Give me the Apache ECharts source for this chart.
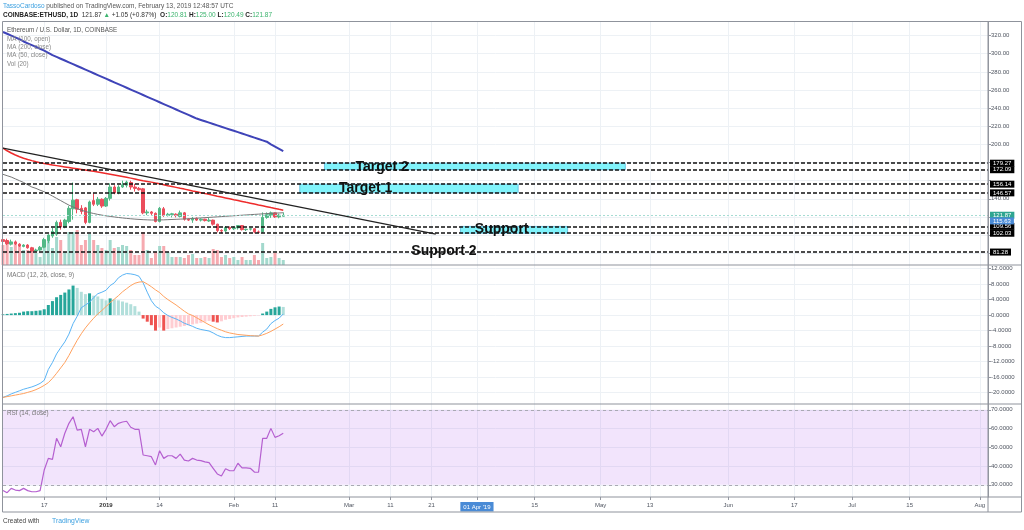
<!DOCTYPE html>
<html><head><meta charset="utf-8">
<script src="https://cdn.jsdelivr.net/npm/echarts@6/dist/echarts.min.js"></script>
<style>html,body{margin:0;padding:0;background:#fff}#c{width:1024px;height:530px}</style>
</head><body><div id="c"></div>
<script>
// ---------- DATA ----------
const firstDay = '2018-12-07';
const lastDay = '2019-08-03';
// daily candles Dec 7 2018 .. Feb 13 2019 : [open, high, low, close]
const candles = [
[95,97,91,93],[94,96,89,90.5],[90,95,88.5,92.5],[92.5,94,89,90.5],[90,91,87,88],
[87.5,90,86.5,89],[89,90,85,86],[86,87,81,82.5],[82.5,85,82,83.5],[83.5,88,82.5,86.5],
[86.5,97,85.5,95],[94,101,91,100],[99,108,97,104],[101,116,99,114],[114,117,106,109],
[109,118,107.5,116.5],[115,132,113,129.5],[129,158,117,138.5],[139,140,124,128.5],[129.5,133,123,126],
[130,131,112,114],[114,138,113,136.5],[138,146,132,134],[134,142,132,139.5],[139.5,140.5,130,132],
[132,142,131,140.5],[140.5,157,138,153],[153,155,145,146.5],[147,155,145,153],[153,160,152,155.5],
[155,160,152.5,158.5],[158,160,150,153],[153,156.5,148,151.5],[151.5,153,149,150],[151,152,123,124.5],
[124.5,128,122,125.5],[125.5,126.5,121.5,124],[124,125,114,115],[115,131,114,129.5],[129,131,120,121.5],
[121.5,124.5,120.5,123],[122.5,124.5,119.5,123.5],[123,124,119.5,121.5],[120.5,127,119.5,124.5],[124.5,125.5,116,117.5],
[117.5,118.5,115.5,116.5],[116.5,120,113.5,118.5],[118.5,119.5,115.5,116.5],[116.5,118.5,115,117.5],[117.5,118,115,116],
[115.5,119,114.5,116.5],[116.5,117,110.5,112],[112,112.5,103,105],[105,106.5,102,104.5],[104.5,110,103.5,108.5],
[108.5,109.5,105.5,107],[107,109.5,105.5,108],[108,111,106,110.5],[110.5,111,105,106],[106,107,104.5,106.5],
[106.5,108,105,107],[107,107.5,102,103.5],[103.5,105,102.5,103],[103.5,125,102.5,119.5],[119.5,125,118,122.5],
[121.5,126,119,124.5],[124.5,125,119,120],[120,123.5,118.5,122],[120.81,125.00,120.49,121.87]
];
const volumes = [500,
600,450,575,475,375,375,400,300,200,425,625,425,700,625,325,825,825,875,500,625,775,625,500,425,375,625,425,450,500,475,375,250,250,825,375,
175,325,475,475,325,200,200,200,175,250,275,175,175,200,175,400,375,200,250,175,200,125,200,125,125,250,125,550,175,200,300,175,125];
const ma200 = [324,322,320,318,316,313.5,311.5,309.5,307.5,305.5,303.5,301,298.5,296.5,294.5,292.5,290.5,288.5,286.5,284.5,
282.5,280.5,278.5,276.5,274.5,272.5,270.5,268.5,266.5,264.5,262.5,260.5,258.5,256.5,254.5,252.5,250.5,248.5,246.5,244.5,
242.5,240.5,238.5,236.5,234.5,232.5,230.5,228.5,227,225.5,224,222.5,221,219.5,218,216.5,215,213.5,212,210.5,
209,207.5,206,204.5,203,200,197.5,195,192.5];
const ma100 = [196,193,190.5,188.3,186.4,184.8,183.4,182.1,180.9,179.8,178.9,178.1,177.3,176.6,175.9,175.2,174.5,173.8,173.1,172.4,
171.7,171,170.3,169.5,168.7,167.9,167.1,166.3,165.5,164.6,163.7,162.8,161.8,160.8,159.8,159.1,
158.4,157.4,156.5,155.5,154.5,153.6,152.6,151.6,150.7,149.7,148.7,147.8,146.8,145.8,144.9,143.9,142.9,142,141,140,
139,138.1,137.1,136.1,135.2,134.2,133.2,132.3,131.3,130.3,129.4,128.4,127.5];
const ma50 = [167,165.5,164,162,160,158,155.5,153,151.5,149.5,147.8,145.5,143,140.5,138,135.5,133,131,129.2,127.5,
126,124.8,123.8,122.8,122,121.2,120.6,120,119.4,118.9,118.4,118,117.6,117.3,117,116.8,116.6,116.6,116.7,116.8,
117,117.2,117.4,117.6,117.8,118,118.3,118.6,118.9,119.2,119.5,119.8,120.1,120.4,120.7,121,121.3,121.6,121.9,122.2,
122.5,122.8,123.1,123.4,123.7,124,124.2,124.4,124.6];
const macdLine = [-21.2,-20.8,-20.3,-19.9,-19.5,-19.1,-18.8,-18.5,-18.1,-17.6,-16.8,-14,-12.2,-10,-8.4,-6.9,-4.9,-2.2,-0.3,1.9,
2.6,3.3,4.5,5.5,5.9,6.4,7.6,8.3,9.6,10.3,10.7,10.6,10.4,10,8.3,5.9,3.7,2.3,1.6,0.6,
-0.1,-0.6,-1,-1.5,-2.1,-2.5,-2.9,-3.4,-3.7,-3.9,-4.1,-4.6,-5.2,-5.6,-5.8,-5.8,-5.7,-5.6,-5.5,-5.4,
-5.4,-5.4,-5.4,-4.4,-3.6,-2.2,-1.4,-0.8,0.3];
const signalLine = [-21.2,-21,-20.8,-20.6,-20.4,-20.2,-19.9,-19.6,-19.2,-18.7,-18.1,-17.4,-16.3,-15,-13.6,-12.2,-10.4,-8.4,-6.5,-4.8,
-3.3,-2,-0.8,0.3,1.2,2.2,3.2,4.1,5,6,6.8,7.6,8.2,8.5,8.6,8,7.3,6.5,5.8,4.8,
4,3.3,2.6,1.8,1,0.3,-0.1,-0.7,-1.3,-1.9,-2.5,-3,-3.5,-3.9,-4.3,-4.6,-4.8,-5,-5.1,-5.2,
-5.3,-5.35,-5.4,-5.1,-4.7,-4.2,-3.6,-3,-2.3];
const macdHist = [0.2,0.3,0.4,0.5,0.6,0.9,1,1,1.1,1.2,1.5,2.6,3.6,4.6,5.2,5.8,6.6,7.6,7,6,
5.4,5.6,5,4.8,4.2,3.8,4.3,4,3.8,3.5,3.2,2.8,2.3,0.9,-0.9,-1.7,-2.6,-4,-3.2,-4,
-3.6,-3.4,-3.2,-3,-2.8,-2.6,-2.4,-2.2,-2,-1.7,-1.5,-1.7,-1.9,-1.6,-1.2,-1,-0.8,-0.6,-0.5,-0.4,
-0.3,-0.2,-0.1,0.4,0.9,1.6,2,2.2,2.1];
const rsi = [27,25.8,28.1,27.2,26.9,28.1,26.9,26.3,26.3,26.9,37.9,44.1,43.6,54.8,50.3,57.5,62.8,66.3,59.2,59.6,
50.3,59.6,58.3,60.1,56,59.6,64.2,61,62.8,63.5,63.9,60.7,59.6,59.6,45.9,45.5,45,40.6,48.2,44.1,
45.5,45.5,44.1,46.4,43.2,42.7,44.1,43.2,42.9,42.2,41.8,38.8,35.8,34.7,38.6,37.5,37.5,41.5,39,39,
38.8,36.8,36.7,54.8,54.8,60.1,55.3,56.2,57.5];
// drawn levels and annotations
const levelPrices = [179.27, 172.09, 156.14, 146.57, 109.56, 102.03, 81.28];
const lastPrice = 121.87;
const maTagPrice = 115.63;
const trendStart = ['2018-12-07', 196];
const trendEnd = ['2019-03-22', 101];
const zoneNames = ['Target 2', 'Target 1', 'Support'];
const zoneFrom = ['2019-02-23', '2019-02-17', '2019-03-28'];
const zoneTo = ['2019-05-07', '2019-04-11', '2019-04-23'];
const zoneHigh = [179.27, 156.14, 109.56];
const zoneLow = [172.09, 146.57, 102.03];
const noteTexts = ['Target 2', 'Target 1', 'Support', 'Support 2'];
const noteDates = ['2019-03-09', '2019-03-05', '2019-04-07', '2019-03-24'];
const notePrices = [174.5, 151.9, 106.2, 82.4];
// axis ticks
const priceGridTicks = [80,100,120,140,160,180,200,220,240,260,280,300,320];
const priceLabelTicks = [140,200,220,240,260,280,300,320];
const macdTicks = [-20,-16,-12,-8,-4,0,4,8,12];
const rsiTicks = [30,40,50,60,70];
const tickDates = ['2018-12-17','2019-01-01','2019-01-14','2019-02-01','2019-02-11','2019-03-01','2019-03-11','2019-03-21','2019-04-01','2019-04-15','2019-05-01','2019-05-13','2019-06-01','2019-06-17','2019-07-01','2019-07-15','2019-08-01'];
const tickTexts = ['17','2019','14','Feb','11','Mar','11','21',"01 Apr '19",'15','May','13','Jun','17','Jul','15','Aug'];

// ---------- BUILD ----------
const categories = [];
(function(){ let d = new Date(firstDay + 'T00:00:00Z'); const e = new Date(lastDay + 'T00:00:00Z');
  while (d <= e) { categories.push(d.toISOString().slice(0,10)); d = new Date(d.getTime() + 86400000); } })();
const tickMap = {}; tickDates.forEach((d,i)=>tickMap[d]=tickTexts[i]);
const isTick = (idx, val) => tickMap[val] !== undefined;

const UP = '#53b987', DOWN = '#eb4d5c';
const FONT = 'Liberation Sans';
const AX = '#9598a1', GRIDC = '#edf1f5', LBL = '#4f5560';

const candleData = candles.map(c => [c[0], c[3], c[2], c[1]]);
const volData = volumes.map((v,i) => ({value: v, itemStyle: {color: candles[i][3] >= candles[i][0] ? '#a3d9cd' : '#f6aab0'}}));
const histData = macdHist.map((v,i) => {
  const prev = i > 0 ? macdHist[i-1] : v;
  let col;
  if (v >= 0) col = v >= prev ? '#26a69a' : '#b2dfdb';
  else col = v <= prev ? '#ef5350' : '#ffcdd2';
  return {value: v, itemStyle: {color: col}};
});

function tag(bg, val) {
  return {show: true, position: 'end', distance: 2, formatter: val.toFixed(2), backgroundColor: bg, color: '#fff',
    fontSize: 6, lineHeight: 6.5, fontFamily: FONT, padding: [0.5, 3, 0, 3]};
}
const levelLines = levelPrices.map(v => ({yAxis: v, lineStyle: {color: '#111', type: [4, 2], width: 1.6}, label: tag('#000', v)}));
levelLines.push({yAxis: lastPrice, lineStyle: {color: '#a6dcd3', type: [2, 2], width: 1}, label: tag('#2ea590', lastPrice)});
levelLines.push({yAxis: maTagPrice, lineStyle: {color: 'rgba(0,0,0,0)', width: 0}, label: tag('#4a8bd6', maTagPrice)});
levelLines.push([{coord: trendStart, lineStyle: {color: '#222', width: 1.3, type: 'solid'}, label: {show: false}}, {coord: trendEnd}]);

const zoneAreas = zoneNames.map((n,i) => [{xAxis: zoneFrom[i], yAxis: zoneHigh[i]}, {xAxis: zoneTo[i], yAxis: zoneLow[i]}]);
const notePoints = noteTexts.map((t,i) => ({name: t, coord: [noteDates[i], notePrices[i]]}));

function xAxisFor(gi, showLabels) {
  return {
    type: 'category', gridIndex: gi, data: categories, boundaryGap: false,
    axisLine: {show: false}, 
    axisTick: {show: showLabels, interval: isTick, length: 3, lineStyle: {color: AX}},
    axisLabel: showLabels ? {show: true, interval: isTick, margin: 5, fontSize: 6, color: LBL, fontFamily: FONT,
      formatter: v => { const t = tickMap[v] || ''; if (t === "01 Apr '19") return '{hl|' + t + '}'; if (t === '2019') return '{b|2019}'; return t; },
      rich: {hl: {backgroundColor: '#4a8bd6', color: '#fff', padding: [2, 3, 1.5, 3], fontSize: 6, fontFamily: FONT},
             b: {fontWeight: 'bold', fontSize: 6, color: '#333', fontFamily: FONT}}} : {show: false},
    splitLine: {show: true, interval: isTick, lineStyle: {color: GRIDC, width: 1}}
  };
}
function yAxisFor(gi, min, max, grid, labels, dec) {
  return {
    type: 'value', gridIndex: gi, position: 'right', min: min, max: max, scale: true,
    axisLine: {show: true, lineStyle: {color: AX}},
    axisTick: {show: true, length: 3, customValues: grid, lineStyle: {color: AX}},
    axisLabel: {show: true, customValues: labels, margin: 3, fontSize: 6, color: LBL, fontFamily: FONT, formatter: v => Number(v).toFixed(dec)},
    splitLine: {show: true, lineStyle: {color: GRIDC, width: 1}}
  };
}

const txt = (x, y, text, fill, size, weight) => ({type: 'text', x: x, y: y, z: 100, silent: true,
  style: {text: text, fill: fill || '#444', font: (weight || 'normal') + ' ' + (size || 6.3) + 'px "' + FONT + '"', textVerticalAlign: 'middle'}});
const hline = (y, x1, x2) => ({type: 'line', z: 90, silent: true, shape: {x1: x1, y1: y, x2: x2, y2: y}, style: {stroke: '#8f939c', lineWidth: 1}});

const chart = echarts.init(document.getElementById('c'), null, {renderer: 'canvas'});
chart.setOption({
  animation: false,
  backgroundColor: '#fff',
  textStyle: {fontFamily: FONT},
  grid: [
    {left: 3, top: 22, width: 985, height: 243},
    {left: 3, top: 265, width: 985, height: 139},
    {left: 3, top: 404, width: 985, height: 93}
  ],
  xAxis: [xAxisFor(0, false), xAxisFor(1, false), xAxisFor(2, true)],
  yAxis: [
    yAxisFor(0, 67, 335, priceGridTicks, priceLabelTicks, 2),
    {type: 'value', gridIndex: 0, min: 0, max: 6075, show: false, splitLine: {show: false}},
    yAxisFor(1, -22.9, 12.9, macdTicks, macdTicks, 4),
    yAxisFor(2, 23.5, 73.1, rsiTicks, rsiTicks, 4)
  ],
  series: [
    {type: 'bar', name: 'Vol', xAxisIndex: 0, yAxisIndex: 1, data: volData, barWidth: 3, z: 1},
    {type: 'candlestick', name: 'ETHUSD', xAxisIndex: 0, yAxisIndex: 0, data: candleData, barWidth: 3, z: 3,
      itemStyle: {color: UP, color0: DOWN, borderColor: UP, borderColor0: DOWN, borderWidth: 1},
      markArea: {silent: true, itemStyle: {color: '#80f3fb', borderColor: '#5bb6dc', borderWidth: 0.8}, data: zoneAreas},
      markLine: {silent: true, symbol: ['none', 'none'], precision: 2, data: levelLines},
      markPoint: {silent: true, symbol: 'rect', symbolSize: 1, itemStyle: {color: 'rgba(0,0,0,0)'},
        label: {show: true, position: 'inside', formatter: '{b}', fontSize: 14, fontWeight: 'bold', color: '#111', fontFamily: FONT},
        data: notePoints}
    },
    {type: 'line', name: 'MA100', xAxisIndex: 0, yAxisIndex: 0, data: ma100, symbol: 'none', z: 4, lineStyle: {color: '#ee2b2b', width: 1.5}},
    {type: 'line', name: 'MA200', xAxisIndex: 0, yAxisIndex: 0, data: ma200, symbol: 'none', z: 4, lineStyle: {color: '#3f44b8', width: 2}},
    {type: 'line', name: 'MA50', xAxisIndex: 0, yAxisIndex: 0, data: ma50, symbol: 'none', z: 4, lineStyle: {color: '#777', width: 1}},
    {type: 'bar', name: 'Hist', xAxisIndex: 1, yAxisIndex: 2, data: histData, barWidth: 3, z: 2},
    {type: 'line', name: 'MACD', xAxisIndex: 1, yAxisIndex: 2, data: macdLine, symbol: 'none', z: 4, lineStyle: {color: '#5ab4f5', width: 1}},
    {type: 'line', name: 'Signal', xAxisIndex: 1, yAxisIndex: 2, data: signalLine, symbol: 'none', z: 4, lineStyle: {color: '#ffa15e', width: 1}},
    {type: 'line', name: 'RSI', xAxisIndex: 2, yAxisIndex: 3, data: rsi, symbol: 'none', z: 4, lineStyle: {color: '#b55fd0', width: 1.2},
      markArea: {silent: true, itemStyle: {color: 'rgba(168,75,235,0.15)'}, data: [[{yAxis: 30}, {yAxis: 70}]]},
      markLine: {silent: true, symbol: ['none', 'none'], label: {show: false}, lineStyle: {color: '#a9a9b3', type: [3, 3], width: 1},
        data: [{yAxis: 30}, {yAxis: 70}]}
    }
  ],
  graphic: [
    {type: 'rect', z: 90, silent: true, shape: {x: 2.5, y: 21.5, width: 1019, height: 490.5}, style: {fill: 'none', stroke: '#8f939c', lineWidth: 1}},
    hline(265, 3, 1021), hline(404, 3, 1021), hline(497, 3, 1021),
    {type: 'line', z: 90, silent: true, shape: {x1: 988, y1: 22, x2: 988, y2: 512}, style: {stroke: '#8f939c', lineWidth: 1}},
    {type: 'text', x: 3, y: 6, z: 100, silent: true, style: {text: '{u|TassoCardoso}{t| published on TradingView.com, February 13, 2019 12:48:57 UTC}', textVerticalAlign: 'middle',
      rich: {u: {fill: '#3ca0e0', font: '6.5px "' + FONT + '"'}, t: {fill: '#555', font: '6.5px "' + FONT + '"'}}}},
    {type: 'text', x: 3, y: 15.5, z: 100, silent: true, style: {text: '{b|COINBASE:ETHUSD, 1D}{t|  121.87 }{g|▲}{t| +1.05 (+0.87%)  }{b|O:}{g|120.81 }{b|H:}{g|125.00 }{b|L:}{g|120.49 }{b|C:}{g|121.87}', textVerticalAlign: 'middle',
      rich: {b: {fill: '#222', font: 'bold 6.5px "' + FONT + '"'}, t: {fill: '#333', font: '6.5px "' + FONT + '"'}, g: {fill: '#3cb46e', font: '6.5px "' + FONT + '"'}}}},
    txt(7, 30.5, 'Ethereum / U.S. Dollar, 1D, COINBASE', '#555'),
    txt(7, 39, 'MA (100, open)', '#888'),
    txt(7, 47.3, 'MA (200, close)', '#888'),
    txt(7, 55.7, 'MA (50, close)', '#888'),
    txt(7, 64, 'Vol (20)', '#888'),
    txt(7, 275, 'MACD (12, 26, close, 9)', '#777'),
    txt(7, 413, 'RSI (14, close)', '#777'),
    txt(3, 521, 'Created with', '#444', 6.5),
    txt(52, 521, 'TradingView', '#3ca0e0', 6.8)
  ]
});
</script></body></html>
